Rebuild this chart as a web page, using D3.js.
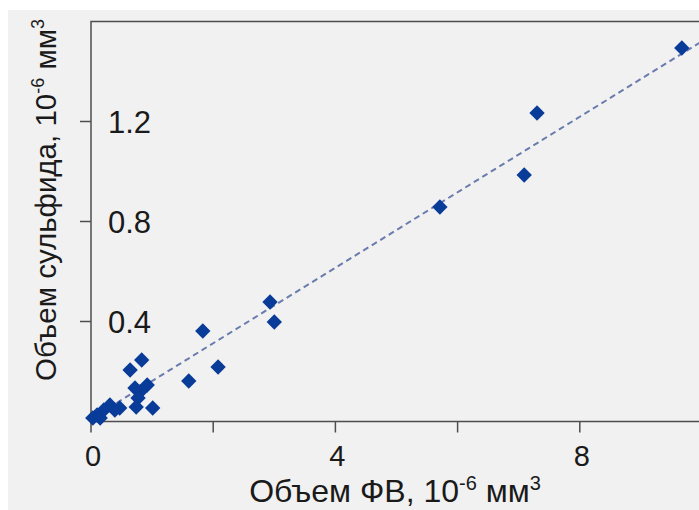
<!DOCTYPE html>
<html>
<head>
<meta charset="utf-8">
<script src="https://cdn.jsdelivr.net/npm/d3@7"></script>
<style>
  body { margin: 0; background: #ffffff; }
  text { font-family: "Liberation Sans", Arial, sans-serif; fill: #1a1a1a; }
</style>
</head>
<body>
<div id="vis"></div>
<script>
const FRAME_WIDTH = 699;
const FRAME_HEIGHT = 510;

// data
const fvVolume = [9.67, 7.30, 7.09, 5.71, 2.93, 3.00, 1.83, 2.08, 1.60, 0.83, 0.64, 1.01,
                  0.92, 0.80, 0.72, 0.77, 0.74, 0.47, 0.31, 0.21, 0.10, 0.03, 0.15, 0.39];
const sulfideVolume = [1.494, 1.234, 0.986, 0.858, 0.478, 0.398, 0.362, 0.218, 0.162, 0.246, 0.206, 0.054,
                       0.146, 0.118, 0.134, 0.094, 0.058, 0.054, 0.066, 0.046, 0.026, 0.014, 0.014, 0.046];
const fitX = [0, 10];
const fitSlope = 0.151;
const fitIntercept = 0.011;
const xTicks = [0, 2, 4, 6, 8];
const xTickLabels = ["0", "", "4", "", "8"];
const yTicks = [0.4, 0.8, 1.2];
const yTickLabels = ["0.4", "0.8", "1.2"];

const points = fvVolume.map((d, i) => ({x: d, y: sulfideVolume[i]}));

const SVG = d3.select("#vis")
  .append("svg")
    .attr("width", FRAME_WIDTH)
    .attr("height", FRAME_HEIGHT);

// grey page background with white strip top/left
SVG.append("rect")
  .attr("x", 8).attr("y", 10)
  .attr("width", FRAME_WIDTH).attr("height", FRAME_HEIGHT)
  .attr("fill", "#f1f1f1");

const X_SCALE = d3.scaleLinear().domain([0, 10]).range([91, 702]);
const Y_SCALE = d3.scaleLinear().domain([0, 1.6]).range([421.5, 21.5]);

// frame
SVG.append("rect")
  .attr("x", X_SCALE(0)).attr("y", Y_SCALE(1.6))
  .attr("width", X_SCALE(10) - X_SCALE(0))
  .attr("height", Y_SCALE(0) - Y_SCALE(1.6))
  .attr("fill", "none")
  .attr("stroke", "#4d4d4d")
  .attr("stroke-width", 1.5);

// x ticks
SVG.selectAll(".xtick")
  .data(xTicks)
  .enter()
  .append("line")
    .attr("x1", d => X_SCALE(d)).attr("x2", d => X_SCALE(d))
    .attr("y1", Y_SCALE(0)).attr("y2", Y_SCALE(0) + 11)
    .attr("stroke", "#4d4d4d").attr("stroke-width", 1.5);

SVG.selectAll(".xlab")
  .data(xTicks)
  .enter()
  .append("text")
    .attr("x", d => X_SCALE(d) + 2)
    .attr("y", 466)
    .attr("text-anchor", "middle")
    .attr("font-size", 29)
    .text((d, i) => xTickLabels[i]);

// y ticks (outside) and labels (inside)
SVG.selectAll(".ytick")
  .data(yTicks)
  .enter()
  .append("line")
    .attr("x1", X_SCALE(0) - 11).attr("x2", X_SCALE(0))
    .attr("y1", d => Y_SCALE(d)).attr("y2", d => Y_SCALE(d))
    .attr("stroke", "#4d4d4d").attr("stroke-width", 1.5);

SVG.selectAll(".ylab")
  .data(yTicks)
  .enter()
  .append("text")
    .attr("x", 108)
    .attr("y", d => Y_SCALE(d) + 11)
    .attr("font-size", 31)
    .text((d, i) => yTickLabels[i]);

// fit line
const line = d3.line()
  .x(d => X_SCALE(d))
  .y(d => Y_SCALE(fitSlope * d + fitIntercept));

SVG.append("path")
  .datum(fitX)
  .attr("d", line)
  .attr("fill", "none")
  .attr("stroke", "#6a7cae")
  .attr("stroke-width", 2)
  .attr("stroke-dasharray", "6,4");

// diamonds
SVG.selectAll(".pt")
  .data(points)
  .enter()
  .append("path")
    .attr("d", d3.symbol().type(d3.symbolSquare).size(118))
    .attr("transform", d => "translate(" + X_SCALE(d.x) + "," + Y_SCALE(d.y) + ") rotate(45)")
    .attr("fill", "#093b98");

// axis titles
const xTitle = SVG.append("text")
  .attr("x", 395).attr("y", 502)
  .attr("text-anchor", "middle")
  .attr("font-size", 32);
xTitle.append("tspan").text("Объем ФВ, 10");
xTitle.append("tspan").attr("font-size", 20).attr("dy", -12).text("-6");
xTitle.append("tspan").attr("dy", 12).text(" мм");
xTitle.append("tspan").attr("font-size", 20).attr("dy", -12).text("3");

const yTitle = SVG.append("text")
  .attr("transform", "translate(56,200) rotate(-90)")
  .attr("text-anchor", "middle")
  .attr("font-size", 29.5);
yTitle.append("tspan").text("Объем сульфида, 10");
yTitle.append("tspan").attr("font-size", 18).attr("dy", -12).text("-6");
yTitle.append("tspan").attr("dy", 12).text(" мм");
yTitle.append("tspan").attr("font-size", 18).attr("dy", -12).text("3");
</script>
</body>
</html>
